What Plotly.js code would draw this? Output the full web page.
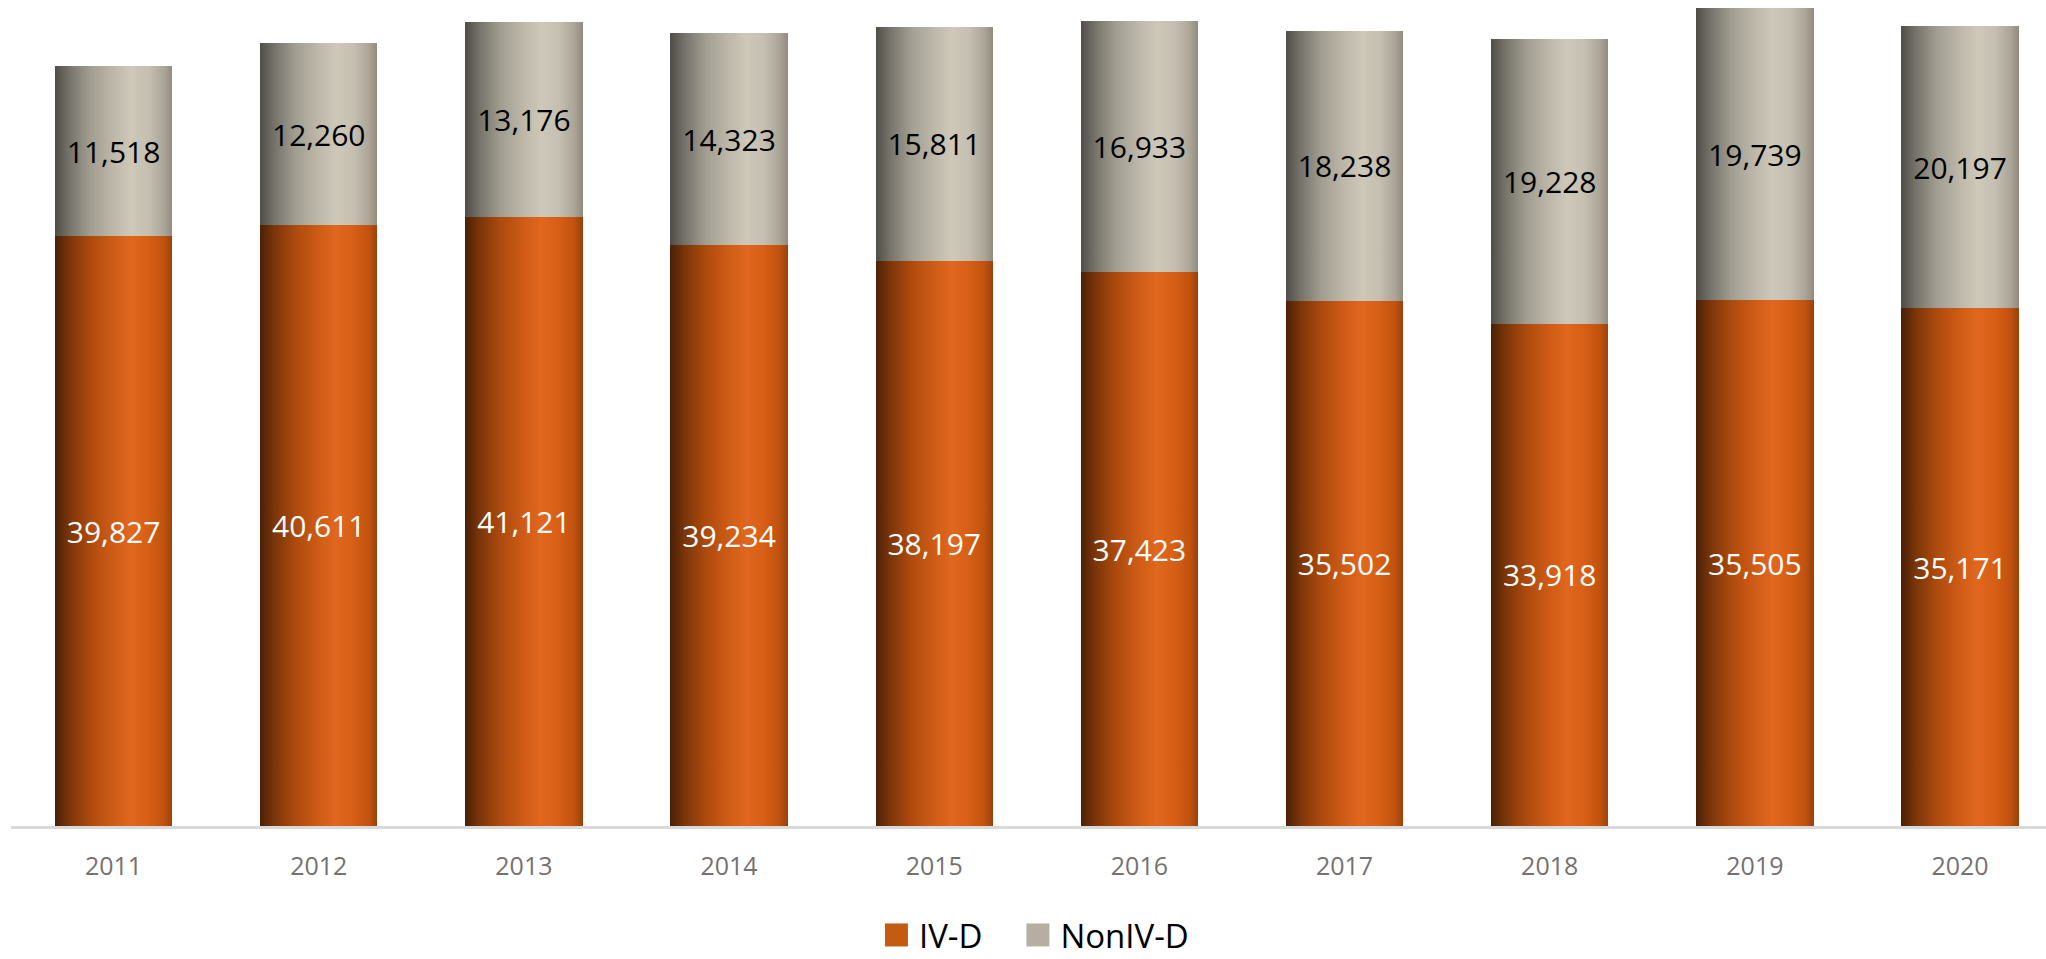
<!DOCTYPE html>
<html>
<head>
<meta charset="utf-8">
<script src="https://cdn.plot.ly/plotly-3.0.1.min.js"></script>
<style>
html,body{margin:0;padding:0;background:#fff;overflow:hidden;}
#chart{width:2046px;height:959px;}
</style>
</head>
<body>
<div id="chart"></div>
<script>
const years = ['2011','2012','2013','2014','2015','2016','2017','2018','2019','2020'];
// bar heights as drawn in the picture
const ivd = [39827, 40611, 41121, 39234, 38197, 37423, 35502, 33918, 35505, 34975];
const nonivd = [11518, 12260, 13176, 14323, 15811, 16933, 18238, 19228, 19739, 19072];
// data labels as printed on the bars
const ivdLabels = ['39,827', '40,611', '41,121', '39,234', '38,197', '37,423', '35,502', '33,918', '35,505', '35,171'];
const nonivdLabels = ['11,518', '12,260', '13,176', '14,323', '15,811', '16,933', '18,238', '19,228', '19,739', '20,197'];
const seriesNames = ['IV-D', 'NonIV-D'];

const FONT = '"Open Sans", "Noto Sans", sans-serif';

const traces = [
  {
    type: 'bar', name: seriesNames[0], x: years, y: ivd,
    marker: {color: '#C55A11', line: {width: 0}},
    text: ivdLabels, textposition: 'inside', insidetextanchor: 'middle',
    textangle: 0, constraintext: 'none',
    textfont: {family: FONT, size: 30, color: '#ffffff'},
    hoverinfo: 'x+y+name'
  },
  {
    type: 'bar', name: seriesNames[1], x: years, y: nonivd,
    marker: {color: '#B5AFA2', line: {width: 0}},
    text: nonivdLabels, textposition: 'inside', insidetextanchor: 'middle',
    textangle: 0, constraintext: 'none',
    textfont: {family: FONT, size: 30, color: '#000000'},
    hoverinfo: 'x+y+name'
  }
];

const ITEMW = 63;

const layout = {
  width: 2046, height: 959,
  margin: {l: 10.6, r: 0, t: 0, b: 133},
  paper_bgcolor: '#ffffff', plot_bgcolor: '#ffffff',
  barmode: 'stack', bargap: 0.428,
  font: {family: FONT},
  showlegend: true,
  legend: {
    orientation: 'h', xref: 'container', yref: 'container',
    x: 0.4985, xanchor: 'center', y: 0, yanchor: 'bottom',
    font: {family: FONT, size: 33, color: '#000000'},
    itemwidth: ITEMW,
    traceorder: 'normal', itemclick: false, itemdoubleclick: false
  },
  xaxis: {
    type: 'category', range: [-0.5, 9.419], fixedrange: true,
    showline: true, linecolor: '#D9D9D9', linewidth: 2.5,
    showgrid: false, zeroline: false, ticks: '',
    ticklabelstandoff: 16,
    tickfont: {family: FONT, size: 25, color: '#767171'}
  },
  yaxis: {
    range: [0, 55803], fixedrange: true,
    showgrid: false, zeroline: false, showline: false,
    showticklabels: false, ticks: ''
  }
};

const gradients = {
  gIV: [
    [0, '#4a2007'], [0.12, '#7a3509'], [0.3, '#ad4a0e'], [0.5, '#cf5c16'],
    [0.65, '#e1671f'], [0.8, '#d65e15'], [0.93, '#c0520f'], [1, '#9a420b']
  ],
  gNon: [
    [0, '#4f4d47'], [0.12, '#75726a'], [0.3, '#a19d90'], [0.5, '#bdb8aa'],
    [0.65, '#cdc8b8'], [0.8, '#c4bfb0'], [0.93, '#aaa597'], [1, '#918c7f']
  ]
};

const LEGEND_SHIFT_Y = 4;

function applyStyling(gd) {
  const svg = gd.querySelector('svg.main-svg');
  if (!svg) return;
  let defs = svg.querySelector('defs');
  const NS = 'http://www.w3.org/2000/svg';
  if (!defs) { defs = document.createElementNS(NS, 'defs'); svg.insertBefore(defs, svg.firstChild); }
  Object.keys(gradients).forEach(id => {
    if (svg.querySelector('#' + id)) return;
    const lg = document.createElementNS(NS, 'linearGradient');
    lg.setAttribute('id', id);
    lg.setAttribute('x1', '0'); lg.setAttribute('x2', '1');
    lg.setAttribute('y1', '0'); lg.setAttribute('y2', '0');
    gradients[id].forEach(([o, c]) => {
      const st = document.createElementNS(NS, 'stop');
      st.setAttribute('offset', o);
      st.setAttribute('stop-color', c);
      lg.appendChild(st);
    });
    defs.appendChild(lg);
  });
  const ids = ['gIV', 'gNon'];
  gd.querySelectorAll('.barlayer .trace').forEach((tg, i) => {
    tg.querySelectorAll('.point path').forEach(p => {
      p.style.fill = 'url(#' + ids[i] + ')';
    });
  });
  // legend swatch: 23px square ending 11px before the label text
  const center = (ITEMW + 10) / 2;
  const right = (ITEMW + 10) - 11 - center;
  const left = right - 23;
  gd.querySelectorAll('.legend .legendpoints path').forEach(p => {
    p.setAttribute('d', 'M' + right + ',11.5H' + left + 'V-11.5H' + right + 'Z');
  });
  const leg = gd.querySelector('g.legend');
  if (leg) {
    const tr = leg.getAttribute('transform') || '';
    if (leg.dataset.shifted !== tr) {
      const m = tr.match(/translate\(\s*([-\d.]+)[ ,]+([-\d.]+)\s*\)/);
      if (m) {
        const nt = 'translate(' + m[1] + ',' + (parseFloat(m[2]) + LEGEND_SHIFT_Y) + ')';
        leg.setAttribute('transform', nt);
        leg.dataset.shifted = nt;
      }
    }
  }
}

const gd = document.getElementById('chart');
Plotly.newPlot(gd, traces, layout, {displayModeBar: false}).then(() => {
  applyStyling(gd);
  gd.on('plotly_afterplot', () => applyStyling(gd));
});
</script>
</body>
</html>
